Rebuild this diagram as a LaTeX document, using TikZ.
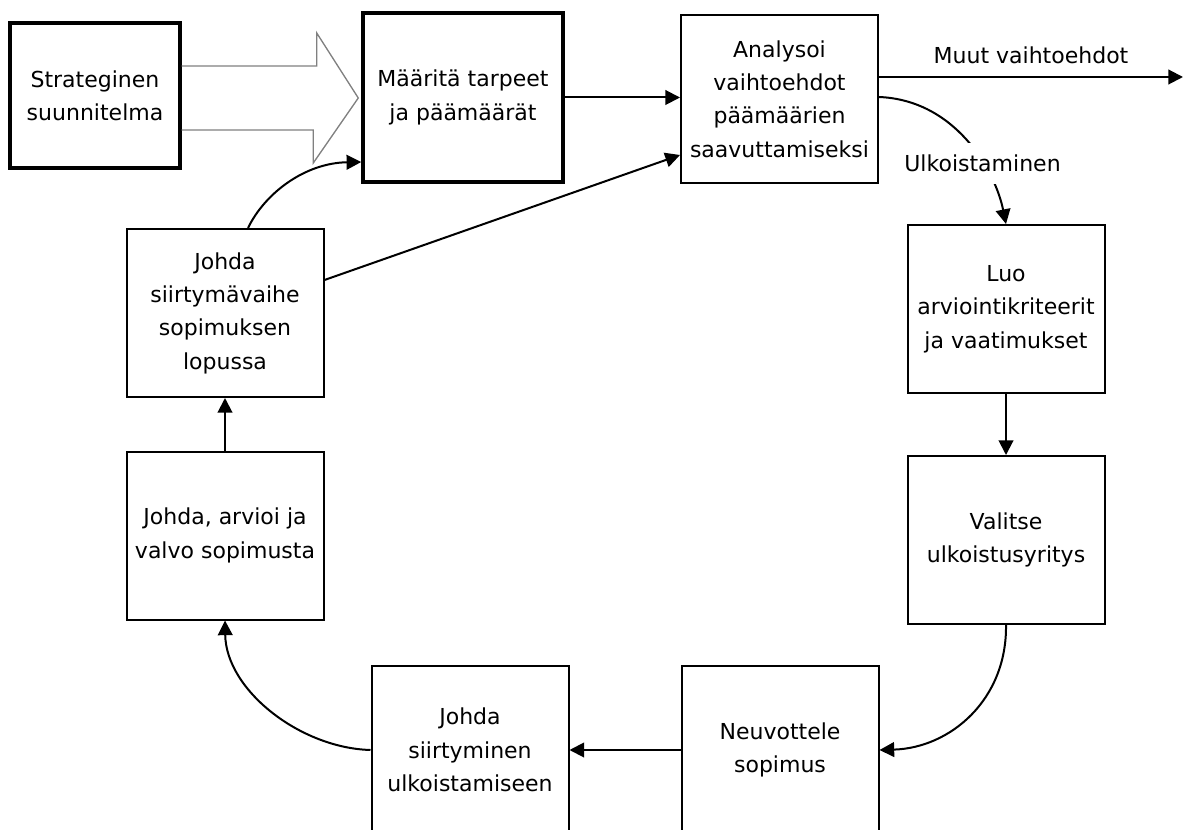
\documentclass[tikz,border=0pt]{standalone}
\usepackage{fontspec}
\setmainfont{DejaVu Sans}
\usetikzlibrary{arrows.meta,calc}
\begin{document}
\begin{tikzpicture}[x=0.75pt,y=-0.75pt,
  txt/.style={font=\fontsize{16.5}{25}\selectfont},
  box/.style={txt, draw, line width=1.5pt, fill=white, minimum width=147.75pt,
    minimum height=126pt, align=center, inner sep=0pt},
  thickbox/.style={box, line width=2.6pt},
  conn/.style={line width=1.5pt, -{Triangle[length=11pt,width=11pt]}},
  bigarrow/.style={draw=gray, line width=1pt, line join=miter},
  lbl/.style={txt, inner sep=1pt},
]
\path[use as bounding box] (0,0) rectangle (1184,830);
\clip (0,0) rectangle (1184,830);

\node[thickbox, minimum width=127.5pt, minimum height=108.75pt] (strat) at (95,95.5) {Strateginen\\suunnitelma};
\node[thickbox, minimum width=150pt, minimum height=126.75pt] (maar) at (463,97.5) {Määritä tarpeet\\ja päämäärät};
\node[box] (anal) at (779.5,99) {Analysoi\\vaihtoehdot\\päämäärien\\saavuttamiseksi};
\node[box] (luo) at (1006,309) {Luo\\arviointikriteerit\\ja vaatimukset};
\node[box] (val) at (1006,540) {Valitse\\ulkoistusyritys};
\node[box] (neu) at (780,750) {Neuvottele\\sopimus};
\node[box] (sir) at (470,750) {Johda\\siirtyminen\\ulkoistamiseen};
\node[box] (arv) at (225,535.5) {Johda, arvioi ja\\valvo sopimusta};
\node[box] (svh) at (225,313) {Johda\\siirtymävaihe\\sopimuksen\\lopussa};

% hollow block arrow
\draw[bigarrow] ($(strat.east)+(0,-29.5)$) -- ++(135,0) -- ++(0,-33)
  -- ($(maar.west)+(-3,0.5)$) -- ++(-45,65) -- ++(0,-33) -- ($(strat.east)+(0,34.5)$);

\draw[conn] (maar.east) -- (maar.east -| anal.west);

\coordinate (muutend) at (1183,77);
\draw[conn] ($(anal.east)+(0,-22)$) -- (muutend) node[lbl, pos=0.5, above=8pt] {Muut vaihtoehdot};

\draw[conn] ($(anal.east)+(0,-2)$) .. controls (955,100) and (995,170) .. (luo.north)
  node[lbl, pos=0.64, fill=white, inner ysep=9pt, inner xsep=2pt] {Ulkoistaminen};

\draw[conn] (luo.south) -- (val.north);
\draw[conn] (val.south) .. controls (1007,700) and (950,748) .. (neu.east);
\draw[conn] (neu.west) -- (sir.east);
\draw[conn] (sir.west) .. controls (300,748) and (226,690) .. (arv.south);
\draw[conn] (arv.north) -- (svh.south);
\draw[conn] ($(svh.north)+(23,0)$) .. controls (265,193) and (305,163) .. ($(maar.west)+(0,64.5)$);
\draw[conn] ($(svh.east)+(0,-33)$) -- ($(anal.west)+(0,56)$);
\end{tikzpicture}
\end{document}
